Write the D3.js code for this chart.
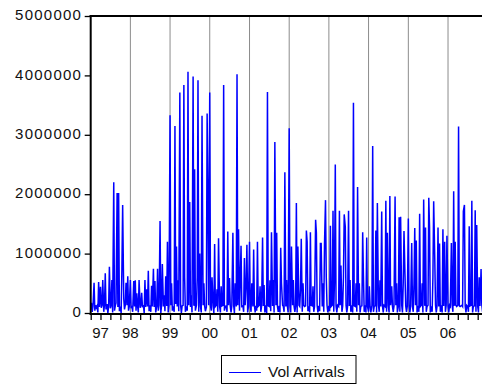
<!DOCTYPE html>
<html>
<head>
<meta charset="utf-8">
<script src="https://cdn.jsdelivr.net/npm/d3@7"></script>
<style>
  html, body { margin: 0; padding: 0; background: #fff; }
  svg { display: block; font-family: "Liberation Sans", Arial, sans-serif; }
</style>
</head>
<body>
<svg id="chart" width="482" height="390"></svg>
<script>
// weekly arrivals, in thousands, 4 readings a month (Jan..Dec)
const vol1997 = [60,170,20,110, 510,40,130,90, 120,10,520,100, 440,90,130,555, 20,140,670,60, 150,0,110,780,
                 80,130,555,10, 2200,40,120,170, 2020,100,2020,30, 110,0,740,1820, 240,60,130,510, 130,620,40,110];
const vol1998 = [555,80,120,20, 540,110,550,40, 330,120,10,555, 90,130,340,110, 120,0,555,100, 400,110,710,30,
                 130,20,460,110, 745,100,540,10, 120,745,40,130, 1550,0,130,825, 110,300,30,620, 120,1200,10,130];
const vol1999 = [3330,130,500,40, 110,20,3150,150, 1120,110,550,30, 3710,140,0,120, 130,3840,600,20, 110,40,4060,130,
                 1870,100,300,10, 3980,120,2420,40, 130,600,3920,20, 1000,110,10,3320, 130,500,120,30, 100,3360,2070,130];
const vol2000 = [3710,120,40,600, 120,0,1160,110, 130,400,20,1260, 110,10,450,120, 130,3840,40,110, 120,20,1370,130,
                 590,110,10,120, 1350,130,0,500, 110,4020,130,1410, 40,600,1130,110, 120,20,925,130, 500,1150,10,110];
const vol2001 = [1200,120,20,500, 110,1070,130,10, 120,40,1200,110, 130,450,20,120, 1270,120,470,10, 130,0,3720,120,
                 110,550,30,1360, 120,555,10,2880, 130,1350,110,20, 120,10,1100,500, 130,110,20,2370, 110,555,120,10];
const vol2002 = [3110,120,10,1120, 130,555,110,20, 120,1850,10,1120, 130,110,400,1250, 20,500,130,110, 120,1390,1200,30,
                 110,10,1360,130, 120,450,20,110, 1570,1350,130,10, 120,30,1170,1170, 110,500,20,1180, 1900,600,130,10];
const vol2003 = [120,30,1470,110, 130,1720,20,600, 2500,120,10,130, 110,1720,130,800, 20,120,600,1660, 1450,130,10,110,
                 1720,120,555,20, 130,10,3540,120, 110,500,20,2120, 130,500,10,110, 120,1360,620,20, 130,10,1270,110];
const vol2004 = [20,450,120,10, 130,2810,20,110, 120,1390,10,1850, 130,20,550,110, 1710,120,10,130, 110,1890,20,1350,
                 120,10,1970,130, 450,110,20,120, 1960,130,500,10, 110,1610,20,1620, 130,10,500,1380, 650,120,20,110];
const vol2005 = [1590,130,10,120, 1180,110,20,500, 1430,130,1220,10, 120,20,1670,110, 130,500,10,1910, 120,1440,20,110,
                 130,1940,1450,10, 110,20,600,1880, 920,130,10,120, 1440,110,1170,20, 130,10,1410,120, 1200,20,130,1300];
const vol2006 = [120,10,130,110, 1180,130,20,2050, 120,1200,130,110, 130,3140,120,110, 120,130,110,1710, 1820,120,10,130,
                 110,20,1460,120, 130,1890,10,110, 120,1730,20,1480, 110,10,600,120, 740,130,20,110, 120,10,130,110];

const years = [1997, 1998, 1999, 2000, 2001, 2002, 2003, 2004, 2005, 2006];
const yearLabels = ['97', '98', '99', '00', '01', '02', '03', '04', '05', '06'];
const yTicks = [0, 1000000, 2000000, 3000000, 4000000, 5000000];
const seriesName = 'Vol Arrivals';

const byYear = [vol1997, vol1998, vol1999, vol2000, vol2001, vol2002, vol2003, vol2004, vol2005, vol2006];
const data = [];
byYear.forEach((vals, yi) => {
  vals.forEach((v, i) => {
    const month = Math.floor(i / 4), week = i % 4;
    data.push({ date: new Date(years[yi], month, 1 + 7 * week), value: v * 1000 });
  });
});

const svg = d3.select('#chart');
const plotLeft = 90.7, plotTop = 16, plotBottom = 313, plotRight = 487.7;

const x = d3.scaleTime()
  .domain([new Date(1997, 0, 1), new Date(2007, 0, 1)])
  .range([plotLeft, plotRight]);
const y = d3.scaleLinear()
  .domain([0, 5000000])
  .range([plotBottom, plotTop]);

svg.append('clipPath').attr('id', 'plot')
  .append('rect').attr('x', plotLeft).attr('y', plotTop - 2)
  .attr('width', plotRight - plotLeft).attr('height', plotBottom - plotTop + 6);

// year gridlines
svg.append('g')
  .selectAll('line')
  .data(years.slice(1))
  .enter()
  .append('line')
  .attr('x1', d => x(new Date(d, 0, 1)))
  .attr('x2', d => x(new Date(d, 0, 1)))
  .attr('y1', plotTop)
  .attr('y2', plotBottom + 1)
  .attr('stroke', '#8c8c8c')
  .attr('stroke-width', 1);

// series
const line = d3.line()
  .x(d => x(d.date))
  .y(d => y(d.value));

svg.append('path')
  .datum(data)
  .attr('clip-path', 'url(#plot)')
  .attr('fill', 'none')
  .attr('stroke', '#0000ff')
  .attr('stroke-width', 1.5)
  .attr('d', line);

// y axis
const yAxis = svg.append('g')
  .attr('transform', `translate(${plotLeft},0)`)
  .call(d3.axisLeft(y).tickValues(yTicks).tickSize(6).tickPadding(4).tickFormat(d3.format('d')));
yAxis.select('.domain').remove();
yAxis.selectAll('line').attr('stroke', '#000').attr('stroke-width', 1.3);
yAxis.selectAll('text')
  .attr('font-family', '"Liberation Sans", Arial, sans-serif')
  .attr('font-size', 15)
  .attr('letter-spacing', 1.25)
  .attr('fill', '#111')
  .attr('x', -8.5)
  .attr('dy', '0.25em');

// x axis, quarterly ticks
const xAxis = svg.append('g')
  .attr('transform', `translate(0,${plotBottom + 1})`)
  .call(d3.axisBottom(x).ticks(d3.timeMonth.every(3)).tickSize(6).tickFormat(''));
xAxis.select('.domain').remove();
xAxis.selectAll('line').attr('stroke', '#000').attr('stroke-width', 1.3);

svg.append('g')
  .selectAll('text')
  .data(yearLabels)
  .enter()
  .append('text')
  .text(d => d)
  .attr('x', (d, i) => x(new Date(years[i], i === 0 ? 3 : 0, 1)))
  .attr('y', 338)
  .attr('text-anchor', 'middle')
  .attr('font-size', 15)
  .attr('fill', '#111');

// frame
svg.append('line').attr('x1', plotLeft - 1).attr('x2', 482).attr('y1', plotTop).attr('y2', plotTop)
  .attr('stroke', '#000').attr('stroke-width', 2);
svg.append('line').attr('x1', plotLeft).attr('x2', plotLeft).attr('y1', plotTop - 1).attr('y2', plotBottom + 2)
  .attr('stroke', '#000').attr('stroke-width', 2);
svg.append('line').attr('x1', plotLeft - 1).attr('x2', 482).attr('y1', plotBottom + 1).attr('y2', plotBottom + 1)
  .attr('stroke', '#000').attr('stroke-width', 2);

// legend
const legend = svg.append('g');
legend.append('rect')
  .attr('x', 221.5).attr('y', 355.5).attr('width', 134.5).attr('height', 28)
  .attr('fill', '#fff').attr('stroke', '#000').attr('stroke-width', 1);
legend.append('line')
  .attr('x1', 229).attr('x2', 261).attr('y1', 372.5).attr('y2', 372.5)
  .attr('stroke', '#0000ff').attr('stroke-width', 1);
legend.append('text')
  .text(seriesName)
  .attr('x', 268).attr('y', 377)
  .attr('font-size', 15.5)
  .attr('fill', '#111');
</script>
</body>
</html>
